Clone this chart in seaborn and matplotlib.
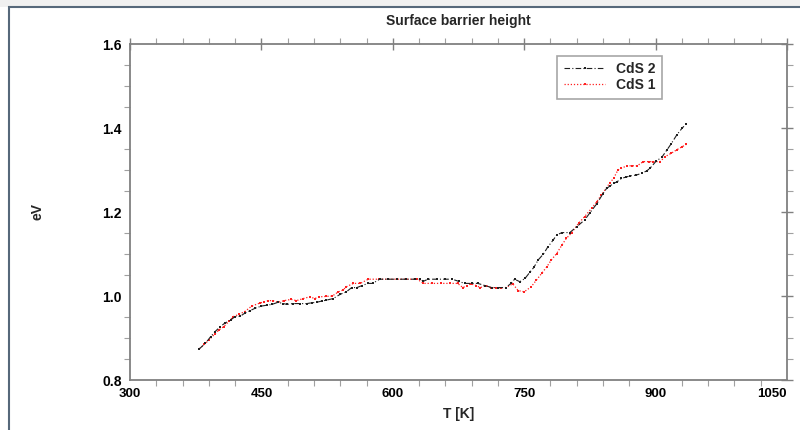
import matplotlib
matplotlib.use("Agg")
import matplotlib.pyplot as plt
from matplotlib.patches import Rectangle
from matplotlib.ticker import MultipleLocator
import seaborn as sns
import pandas as pd

# CdS 2 (black, dash-dot)
t_cds2 = [379, 386, 392, 397, 403, 408, 415, 420, 426, 431,
          437, 443, 450, 456, 462, 469, 475, 479, 486, 494,
          502, 508, 513, 519, 524, 532, 540, 547, 553, 559,
          565, 572, 577, 585, 595, 605, 615, 625, 631, 635,
          640, 650, 660, 668, 675, 682, 690, 697, 705, 713,
          720, 729, 735, 739, 745, 751, 757, 761, 766, 772,
          777, 783, 787, 793, 802, 810, 819, 825, 833, 840,
          844, 848, 852, 856, 861, 866, 871, 878, 884, 890,
          894, 901, 907, 913, 918, 924, 930, 935]
ev_cds2 = [0.874, 0.887, 0.903, 0.915, 0.927, 0.935, 0.943, 0.951, 0.952, 0.959,
           0.965, 0.971, 0.976, 0.978, 0.980, 0.985, 0.982, 0.980, 0.982, 0.982,
           0.982, 0.984, 0.985, 0.988, 0.990, 0.994, 1.004, 1.010, 1.020, 1.020,
           1.025, 1.030, 1.030, 1.040, 1.040, 1.040, 1.040, 1.040, 1.040, 1.035,
           1.040, 1.040, 1.040, 1.040, 1.035, 1.030, 1.030, 1.030, 1.025, 1.020,
           1.020, 1.020, 1.030, 1.040, 1.034, 1.042, 1.058, 1.068, 1.086, 1.100,
           1.117, 1.133, 1.145, 1.151, 1.151, 1.165, 1.181, 1.198, 1.220, 1.244,
           1.256, 1.262, 1.268, 1.272, 1.280, 1.283, 1.286, 1.288, 1.292, 1.298,
           1.305, 1.322, 1.330, 1.348, 1.363, 1.383, 1.399, 1.410]

# CdS 1 (red, dotted)
t_cds1 = [379, 385, 390, 397, 402, 407, 413, 418, 424, 431,
          439, 448, 453, 458, 463, 469, 476, 484, 490, 498,
          505, 511, 516, 524, 531, 538, 543, 547, 555, 563,
          572, 584, 595, 605, 615, 628, 635, 645, 655, 665,
          674, 680, 685, 689, 695, 700, 706, 712, 718, 724,
          729, 737, 743, 750, 758, 764, 770, 776, 781, 787,
          793, 798, 804, 812, 819, 827, 833, 838, 844, 848,
          852, 857, 861, 867, 873, 879, 886, 892, 897, 905,
          911, 918, 924, 930, 935]
ev_cds1 = [0.874, 0.885, 0.895, 0.910, 0.920, 0.927, 0.940, 0.951, 0.956, 0.963,
           0.976, 0.983, 0.986, 0.989, 0.989, 0.985, 0.989, 0.992, 0.989, 0.994,
           0.998, 0.994, 0.998, 0.999, 1.000, 1.010, 1.014, 1.022, 1.030, 1.030,
           1.040, 1.040, 1.040, 1.040, 1.040, 1.040, 1.030, 1.030, 1.030, 1.030,
           1.030, 1.020, 1.025, 1.029, 1.025, 1.020, 1.025, 1.020, 1.020, 1.020,
           1.020, 1.029, 1.013, 1.010, 1.022, 1.038, 1.054, 1.070, 1.086, 1.101,
           1.121, 1.137, 1.150, 1.173, 1.189, 1.209, 1.225, 1.240, 1.258, 1.270,
           1.280, 1.300, 1.304, 1.310, 1.310, 1.310, 1.320, 1.320, 1.320, 1.320,
           1.332, 1.340, 1.348, 1.355, 1.361]

x_ticks = [300, 450, 600, 750, 900, 1050]
y_ticks = [0.8, 1.0, 1.2, 1.4, 1.6]

sns.set_style("white")
plt.rcParams['font.family'] = ['Liberation Sans Narrow', 'Liberation Sans', 'DejaVu Sans']
plt.rcParams['font.weight'] = 'bold'

fig = plt.figure(figsize=(8, 4.3), dpi=100)
ax = fig.add_axes([130 / 800, 50 / 430, 657 / 800, 336 / 430])

df2 = pd.DataFrame({'T': t_cds2, 'eV': ev_cds2})
df1 = pd.DataFrame({'T': t_cds1, 'eV': ev_cds1})

sns.lineplot(data=df1, x='T', y='eV', ax=ax, color='#ff2020', linestyle=(0, (1, 1.5)),
             lw=0.9, marker='s', markersize=1.5, markeredgewidth=0, sort=False,
             estimator=None, label='CdS 1')
sns.lineplot(data=df2, x='T', y='eV', ax=ax, color='#202020', linestyle=(0, (5, 2, 1, 2)),
             lw=0.8, marker='s', markersize=1.5, markeredgewidth=0, sort=False,
             estimator=None, label='CdS 2')

ax.set_xlim(300, 1050)
ax.set_ylim(0.8, 1.6)
ax.set_xticks(x_ticks)
ax.set_yticks(y_ticks)
ax.set_yticklabels([f"{v:.1f}" for v in y_ticks])
ax.xaxis.set_minor_locator(MultipleLocator(30))
ax.yaxis.set_minor_locator(MultipleLocator(0.05))

axis_col = '#808080'
for s in ax.spines.values():
    s.set_color(axis_col)
    s.set_linewidth(1.3)
ax.tick_params(which='major', direction='inout', length=8, width=1, color=axis_col,
               labelsize=10, labelcolor='black', top=True, right=True,
               labeltop=False, labelright=False, pad=2)
ax.tick_params(axis='x', which='major', labelsize=9.5)
ax.tick_params(which='minor', direction='out', length=4, width=0.8, color='#a0a0a0',
               top=True, right=True, bottom=True, left=True)
for lab in ax.get_xticklabels() + ax.get_yticklabels():
    lab.set_fontweight('bold')
# keep the last x label inside the figure edge
ax.get_xticklabels()[-1].set_horizontalalignment('right')
ax.get_xticklabels()[-1].set_x(1050)

ax.set_xlabel('T [K]', fontsize=10, fontweight='bold', labelpad=5)
ax.set_ylabel('eV', fontsize=10, fontweight='bold', labelpad=0)
ax.yaxis.set_label_coords(-0.13, 0.5)
ax.set_title('Surface barrier height', fontsize=10, fontweight='bold', pad=14)

h, l = ax.get_legend_handles_labels()
order = [l.index('CdS 2'), l.index('CdS 1')]
leg = ax.legend([h[i] for i in order], [l[i] for i in order],
                loc='upper left', bbox_to_anchor=(0.64, 0.985), fancybox=False,
                edgecolor='#909090', fontsize=10, handlelength=3.0,
                borderpad=0.45, labelspacing=0.15, frameon=True)
for txt in leg.get_texts():
    txt.set_fontweight('bold')
leg.get_frame().set_linewidth(1.2)

# window-style frame around the figure
fig.patches.append(Rectangle((0, 423 / 430), 1, 7 / 430, transform=fig.transFigure,
                             facecolor='#f0f0f0', edgecolor='none', zorder=-1))
fig.patches.append(Rectangle((9 / 800, -0.05), 1.1, 423 / 430 + 0.05,
                             transform=fig.transFigure, facecolor='none',
                             edgecolor='#56687a', lw=1.5))

fig.savefig('out.png', dpi=100)
